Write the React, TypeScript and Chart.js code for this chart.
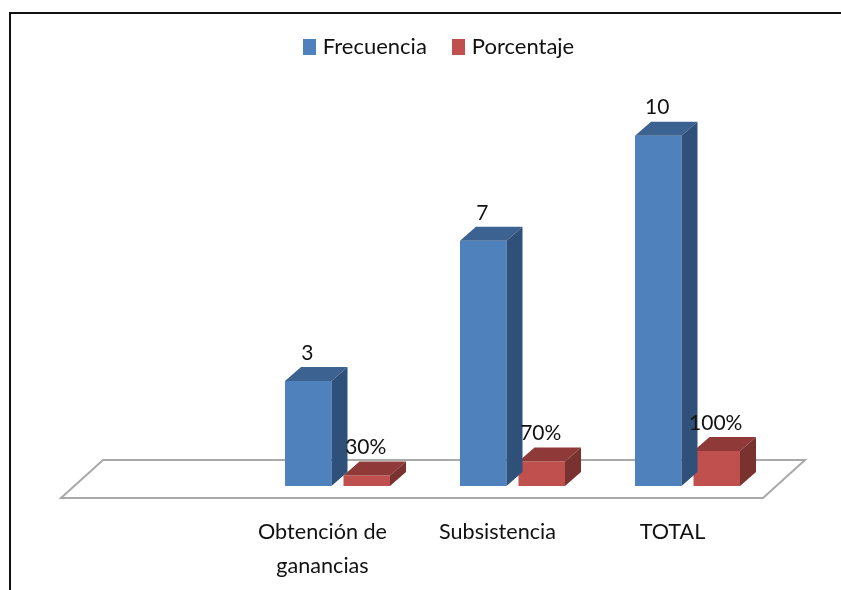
import React, { useEffect, useRef } from "react";
import { Chart, registerables } from "chart.js";

Chart.register(...registerables);

// The first category is intentionally empty: it reserves the blank stretch of the floor.
const categories: (string | string[])[] = ["", ["Obtención de", "ganancias"], "Subsistencia", "TOTAL"];
const frecuencia = [null, 3, 7, 10];
const porcentaje = [null, 0.3, 0.7, 1];
const frecuenciaLabels = ["", "3", "7", "10"];
const porcentajeLabels = ["", "30%", "70%", "100%"];

const FONT = "Lato, sans-serif";
const DEPTH_X = 16;
const DEPTH_Y = 14;
const BLUE = "#4F81BD";
const RED = "#C0504D";
const LEGEND_SHIFT_X = 16;
const LEGEND_SHIFT_Y = 2;

const shades: Record<string, { top: string; side: string }> = {
  Frecuencia: { top: "#3C6291", side: "#2F5078" },
  Porcentaje: { top: "#8F3A38", side: "#7A3230" },
};

// Legend swatches are small canvases so they can sit close to their text.
function swatch(color: string) {
  const c = document.createElement("canvas");
  c.width = 13;
  c.height = 16;
  const g = c.getContext("2d")!;
  g.fillStyle = color;
  g.fillRect(0, 0, 13, 16);
  return c;
}

// Nudges the legend into place and draws the slanted floor beneath the bars.
const floorPlugin = {
  id: "floor",
  afterLayout(chart: any) {
    chart.legend.left += LEGEND_SHIFT_X;
    chart.legend.right += LEGEND_SHIFT_X;
    chart.legend.top += LEGEND_SHIFT_Y;
    chart.legend.bottom += LEGEND_SHIFT_Y;
  },
  beforeDatasetsDraw(chart: any) {
    const { ctx, chartArea: a } = chart;
    ctx.save();
    ctx.strokeStyle = "#A9A9A9";
    ctx.lineWidth = 2;
    ctx.lineJoin = "miter";
    ctx.beginPath();
    ctx.moveTo(a.left - 14, a.bottom + 12);
    ctx.lineTo(a.left + 28, a.bottom - 26);
    ctx.lineTo(a.right + 30, a.bottom - 26);
    ctx.lineTo(a.right - 12, a.bottom + 12);
    ctx.closePath();
    ctx.stroke();
    ctx.restore();
  },
};

// Adds the top and side faces that give each bar its depth, then the value labels.
const depthPlugin = {
  id: "depth",
  afterDatasetDraw(chart: any, args: any) {
    const { ctx } = chart;
    const meta = chart.getDatasetMeta(args.index);
    const shade = shades[chart.data.datasets[args.index].label];
    ctx.save();
    meta.data.forEach((bar: any, i: number) => {
      if (chart.data.datasets[args.index].data[i] == null) return;
      const l = bar.x - bar.width / 2;
      const r = bar.x + bar.width / 2;
      const t = bar.y;
      const b = bar.base;
      ctx.fillStyle = shade.top;
      ctx.beginPath();
      ctx.moveTo(l, t);
      ctx.lineTo(l + DEPTH_X, t - DEPTH_Y);
      ctx.lineTo(r + DEPTH_X, t - DEPTH_Y);
      ctx.lineTo(r, t);
      ctx.closePath();
      ctx.fill();
      ctx.fillStyle = shade.side;
      ctx.beginPath();
      ctx.moveTo(r, t);
      ctx.lineTo(r + DEPTH_X, t - DEPTH_Y);
      ctx.lineTo(r + DEPTH_X, b - DEPTH_Y);
      ctx.lineTo(r, b);
      ctx.closePath();
      ctx.fill();
    });
    ctx.restore();
  },
  afterDatasetsDraw(chart: any) {
    const { ctx } = chart;
    const texts = [frecuenciaLabels, porcentajeLabels];
    ctx.save();
    ctx.font = `21px ${FONT}`;
    ctx.fillStyle = "#111111";
    ctx.textAlign = "center";
    ctx.textBaseline = "middle";
    chart.data.datasets.forEach((_: any, d: number) => {
      chart.getDatasetMeta(d).data.forEach((bar: any, i: number) => {
        if (!texts[d][i]) return;
        ctx.fillText(texts[d][i], bar.x - 1, bar.y - DEPTH_Y - 14);
      });
    });
    ctx.restore();
  },
};

export default function App() {
  const ref = useRef<HTMLCanvasElement>(null);

  useEffect(() => {
    const swatches = [swatch(BLUE), swatch(RED)];
    const chart = new Chart(ref.current!, {
      type: "bar",
      data: {
        labels: categories,
        datasets: [
          { label: "Frecuencia", data: frecuencia, backgroundColor: BLUE },
          { label: "Porcentaje", data: porcentaje, backgroundColor: RED },
        ],
      },
      options: {
        responsive: false,
        animation: false,
        categoryPercentage: 0.6686,
        barPercentage: 0.795,
        layout: { padding: { left: 75, right: 66, top: 3.6, bottom: 0 } },
        plugins: {
          tooltip: { enabled: false },
          legend: {
            position: "top",
            align: "center",
            labels: {
              usePointStyle: true,
              boxWidth: 4,
              boxHeight: 16,
              padding: 30,
              color: "#111111",
              font: { family: FONT, size: 22 },
              generateLabels(c: any) {
                return Chart.defaults.plugins.legend.labels
                  .generateLabels(c)
                  .map((item: any, i: number) => ({ ...item, pointStyle: swatches[i] }));
              },
            },
          },
        },
        scales: {
          x: {
            grid: { display: false },
            border: { display: false },
            afterFit(scale: any) {
              scale.height = 104;
            },
            ticks: {
              color: "#111111",
              maxRotation: 0,
              autoSkip: false,
              padding: 21,
              labelOffset: -15,
              font: { family: FONT, size: 21.6, lineHeight: 1.58 },
            },
          },
          y: {
            display: false,
            min: 0,
            max: 12,
            afterFit(scale: any) {
              scale.width = 0;
            },
          },
        },
      },
      plugins: [floorPlugin, depthPlugin],
    } as any);
    return () => chart.destroy();
  }, []);

  return (
    <div
      style={{
        position: "fixed",
        left: 0,
        top: 0,
        width: 841,
        height: 590,
        background: "#ffffff",
        overflow: "hidden",
      }}
    >
      <canvas ref={ref} width={841} height={590} style={{ display: "block" }} />
      <div
        style={{
          position: "absolute",
          left: 9,
          top: 12,
          width: 840,
          height: 600,
          border: "2px solid #111111",
          boxSizing: "border-box",
        }}
      />
    </div>
  );
}
